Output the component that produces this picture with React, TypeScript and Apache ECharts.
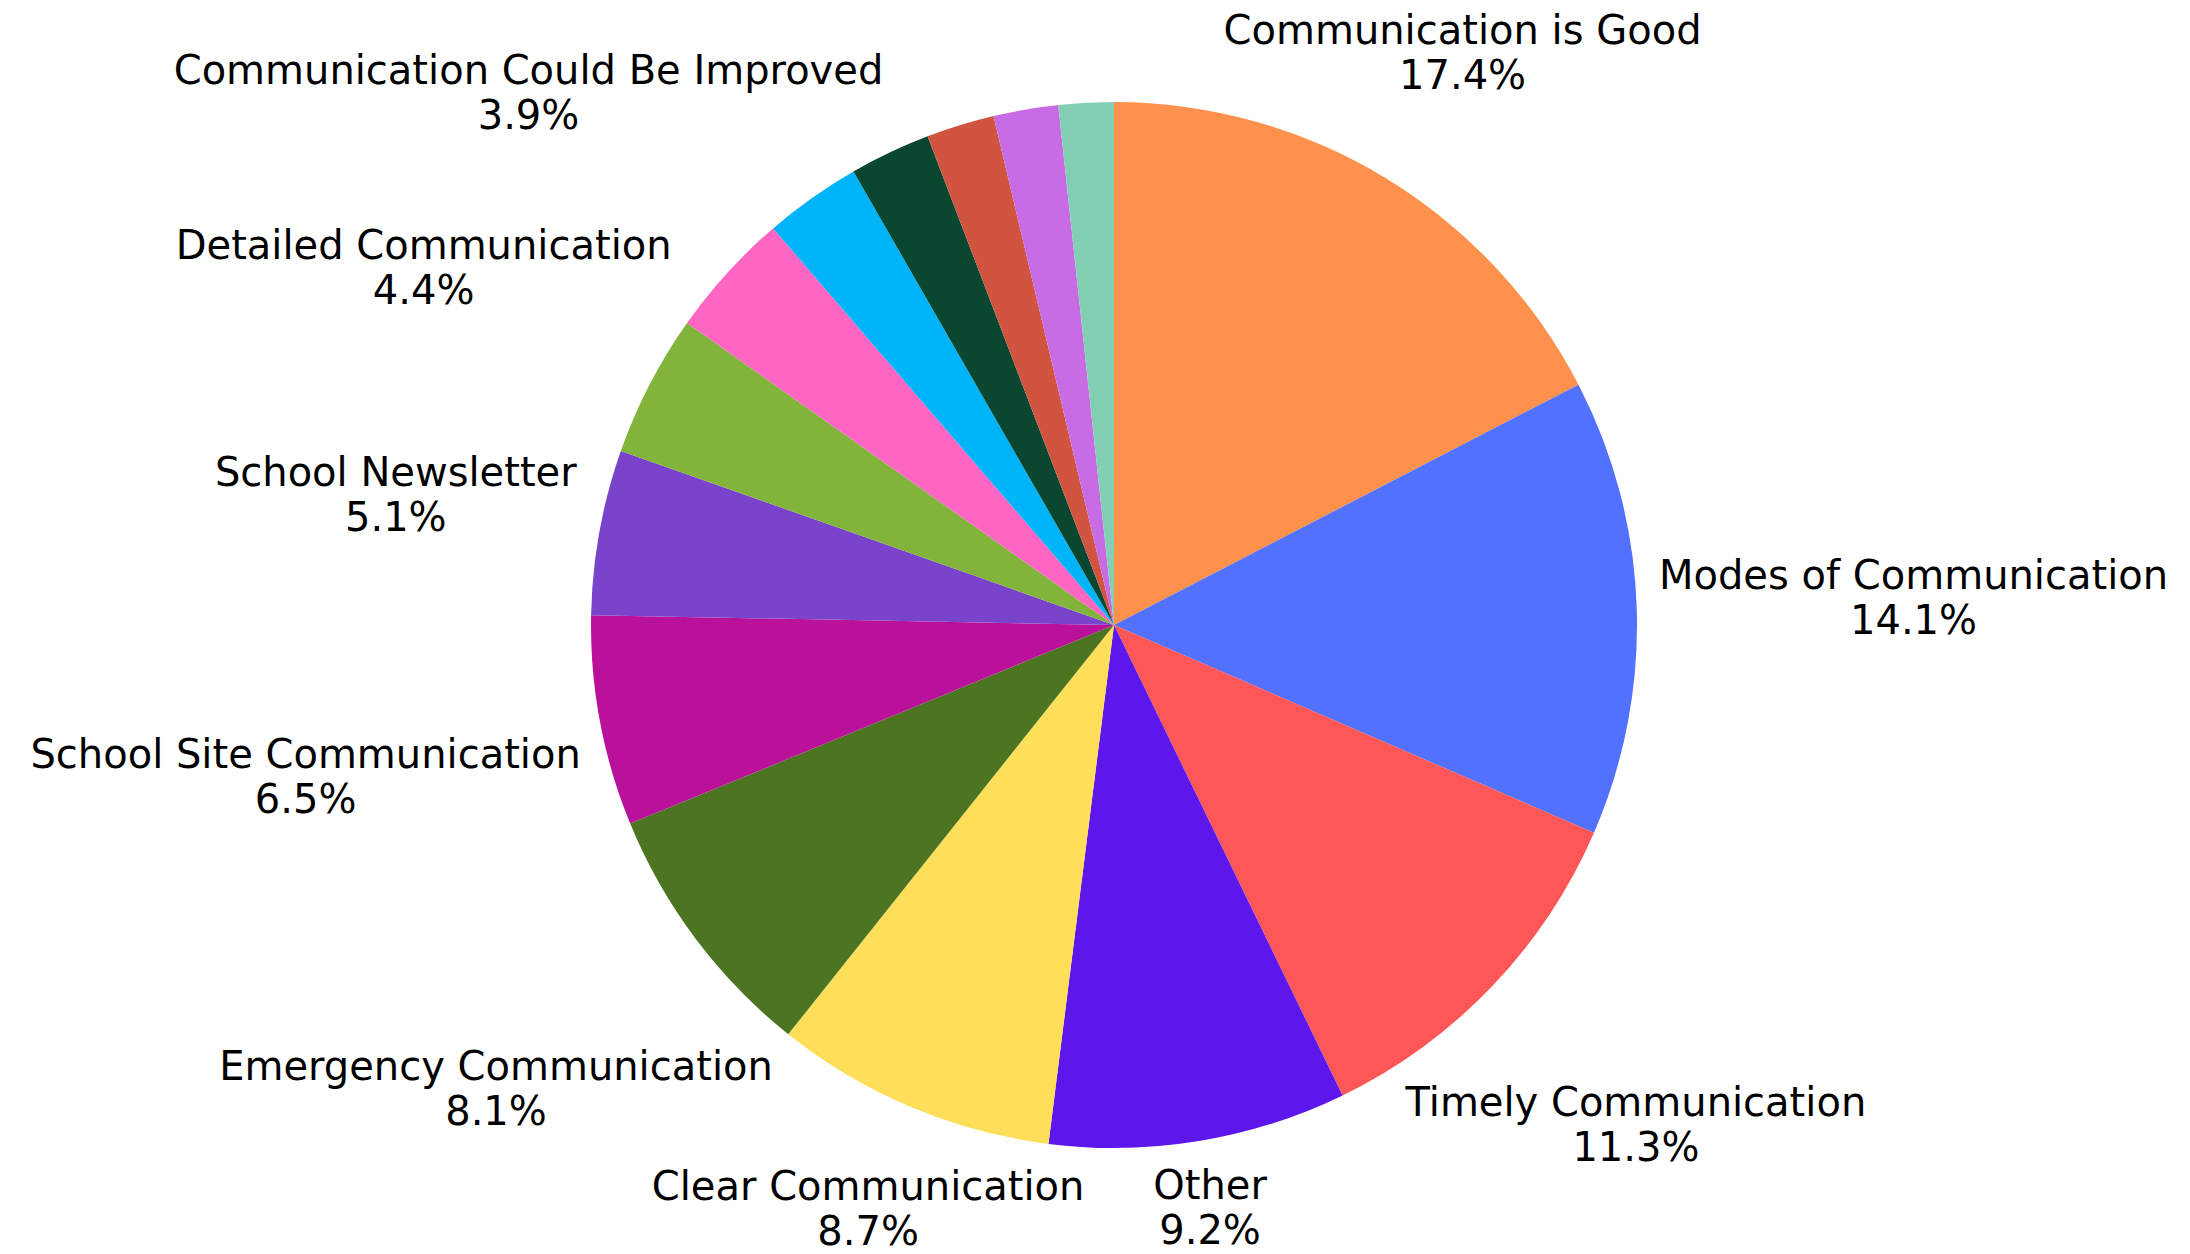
import React, { useEffect, useRef } from "react";
import * as echarts from "echarts";

const categories = [
  "Communication is Good",
  "Modes of Communication",
  "Timely Communication",
  "Other",
  "Clear Communication",
  "Emergency Communication",
  "School Site Communication",
  "School Newsletter",
  "Detailed Communication",
  "Communication Could Be Improved",
  "Category 11",
  "Category 12",
  "Category 13",
  "Category 14",
  "Category 15",
];

const values = [17.4, 14.1, 11.3, 9.2, 8.7, 8.1, 6.5, 5.1, 4.4, 3.9, 3.0, 2.5, 2.1, 2.0, 1.7];

const showLabel = [true, true, true, true, true, true, true, true, true, true, false, false, false, false, false];

const colors = [
  "#FF914D",
  "#5271FF",
  "#FF5757",
  "#5E17EB",
  "#FFDE59",
  "#4D7421",
  "#BA119B",
  "#7943CC",
  "#82B33A",
  "#FF66C4",
  "#00B4FA",
  "#0A4731",
  "#D05440",
  "#C86CE6",
  "#82CFB4",
];

const CX = 1114;
const CY = 625;
const RADIUS = 523;
const LABEL_R = 545;

export default function App() {
  const ref = useRef<HTMLDivElement>(null);

  useEffect(() => {
    document.body.style.margin = "0";
    document.body.style.overflow = "hidden";
    if (!ref.current) return;
    const chart = echarts.init(ref.current, undefined, { renderer: "svg" });

    const total = values.reduce((a, b) => a + b, 0);
    const mids: number[] = [];
    let cum = 0;
    values.forEach((v) => {
      mids.push(((cum + v / 2) / total) * Math.PI * 2);
      cum += v;
    });

    const labelLayout = (params: any) => {
      const i = params.dataIndex;
      const rect = params.labelRect;
      const hw = rect.width / 2;
      const hh = Math.max(rect.height / 2 - 6, 0);
      const ux = Math.sin(mids[i]);
      const uy = -Math.cos(mids[i]);
      const nearest = (d: number) => {
        const dx = Math.max(Math.abs(d * ux) - hw, 0);
        const dy = Math.max(Math.abs(d * uy) - hh, 0);
        return Math.sqrt(dx * dx + dy * dy);
      };
      let lo = 0;
      let hi = RADIUS * 4;
      for (let k = 0; k < 60; k++) {
        const mid = (lo + hi) / 2;
        if (nearest(mid) < LABEL_R) lo = mid;
        else hi = mid;
      }
      const d = (lo + hi) / 2;
      return {
        x: CX + d * ux,
        y: CY + d * uy,
        align: "center",
        verticalAlign: "middle",
      };
    };

    chart.setOption({
      animation: false,
      backgroundColor: "#ffffff",
      series: [
        {
          type: "pie",
          center: [CX, CY],
          radius: RADIUS,
          startAngle: 90,
          clockwise: true,
          avoidLabelOverlap: false,
          percentPrecision: 1,
          silent: true,
          itemStyle: { borderWidth: 0 },
          label: {
            show: true,
            position: "outside",
            formatter: "{b}\n{d}%",
            fontFamily: "DejaVu Sans",
            fontSize: 40,
            lineHeight: 45,
            color: "#000000",
            align: "center",
          },
          labelLine: { show: false, length: 0, length2: 0 },
          labelLayout,
          data: categories.map((name, i) => ({
            name,
            value: values[i],
            itemStyle: { color: colors[i] },
            label: { show: showLabel[i] },
          })),
        },
      ],
    });

    return () => chart.dispose();
  }, []);

  return <div ref={ref} style={{ width: 2190, height: 1254 }} />;
}
